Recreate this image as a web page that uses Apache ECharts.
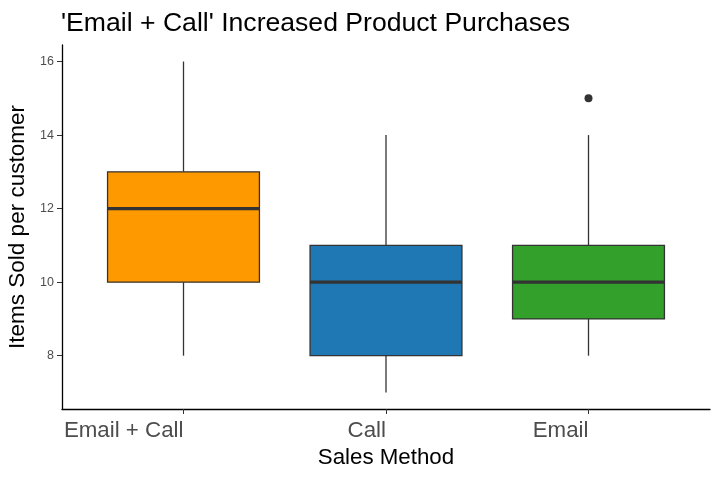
<!DOCTYPE html>
<html>
<head>
<meta charset="utf-8">
<script src="https://cdn.jsdelivr.net/npm/echarts@6/dist/echarts.min.js"></script>
<style>html,body{margin:0;padding:0;background:#fff}#chart{width:720px;height:480px}</style>
</head>
<body>
<div id="chart"></div>
<script>
const categories = ['Email + Call', 'Call', 'Email'];
const lowerWhisker = [8, 7, 8];
const q1 = [10, 8, 9];
const median = [12, 10, 10];
const q3 = [13, 11, 11];
const upperWhisker = [16, 14, 14];
const boxColors = ['#FF9900', '#1F78B4', '#33A02C'];
const outlierCategory = ['Email'];
const outlierValue = [15];
const yTicks = [8, 10, 12, 14, 16];

const boxData = categories.map((c, i) => [i + 1, lowerWhisker[i], q1[i], median[i], q3[i], upperWhisker[i]]);
const outlierData = outlierCategory.map((c, i) => [categories.indexOf(c) + 1, outlierValue[i]]);

const font = 'Liberation Sans, Arial, sans-serif';
const chart = echarts.init(document.getElementById('chart'));
chart.setOption({
  animation: false,
  title: {
    text: "'Email + Call' Increased Product Purchases",
    left: 56, top: 5,
    textStyle: { fontFamily: font, fontSize: 26.6, fontWeight: 'normal', color: '#000' }
  },
  grid: { left: 62, right: 10, top: 45, bottom: 71, outerBoundsMode: 'none', containLabel: false },
  xAxis: {
    type: 'value', min: 0.4, max: 3.6, interval: 1,
    name: 'Sales Method', nameLocation: 'middle', nameGap: 37,
    nameTextStyle: { fontFamily: font, fontSize: 22.3, color: '#000' },
    splitLine: { show: false },
    axisLine: { show: true, onZero: false, lineStyle: { color: '#000', width: 1.3 } },
    axisTick: { show: true, length: 5, lineStyle: { color: '#333' },
      customValues: categories.map((c, i) => i + 1) },
    axisLabel: {
      fontFamily: font, fontSize: 22.3, color: '#4D4D4D', align: 'right', margin: 11,
      customValues: categories.map((c, i) => i + 1),
      formatter: v => categories[Math.round(v) - 1] || ''
    }
  },
  yAxis: {
    type: 'value', min: 6.55, max: 16.45,
    name: 'Items Sold per customer', nameLocation: 'middle', nameGap: 30,
    nameTextStyle: { fontFamily: font, fontSize: 22.5, color: '#000' },
    splitLine: { show: false },
    axisLine: { show: true, onZero: false, lineStyle: { color: '#000', width: 1.3 } },
    axisTick: { show: true, length: 5, lineStyle: { color: '#333' }, customValues: yTicks },
    axisLabel: { fontFamily: font, fontSize: 12.5, color: '#4D4D4D', margin: 8, customValues: yTicks }
  },
  series: [
    {
      type: 'custom',
      data: boxData,
      encode: { x: 0, y: [1, 2, 3, 4, 5] },
      renderItem: function (params, api) {
        const x = api.value(0);
        const idx = params.dataIndex;
        const w = api.size([0.75, 0])[0];
        const pLo = api.coord([x, api.value(1)]);
        const pQ1 = api.coord([x, api.value(2)]);
        const pMed = api.coord([x, api.value(3)]);
        const pQ3 = api.coord([x, api.value(4)]);
        const pHi = api.coord([x, api.value(5)]);
        const line = { stroke: '#333333', lineWidth: 1.3 };
        return {
          type: 'group',
          children: [
            { type: 'line', shape: { x1: pLo[0], y1: pLo[1], x2: pQ1[0], y2: pQ1[1] }, style: line },
            { type: 'line', shape: { x1: pQ3[0], y1: pQ3[1], x2: pHi[0], y2: pHi[1] }, style: line },
            { type: 'rect', shape: { x: pQ3[0] - w / 2, y: pQ3[1], width: w, height: pQ1[1] - pQ3[1] },
              style: { fill: boxColors[idx], stroke: '#333333', lineWidth: 1.3 } },
            { type: 'line', shape: { x1: pMed[0] - w / 2, y1: pMed[1], x2: pMed[0] + w / 2, y2: pMed[1] },
              style: { stroke: '#333333', lineWidth: 3.2 } }
          ]
        };
      }
    },
    {
      type: 'scatter',
      data: outlierData,
      symbol: 'circle', symbolSize: 8,
      itemStyle: { color: '#333333', opacity: 1 }
    }
  ]
});
</script>
</body>
</html>
